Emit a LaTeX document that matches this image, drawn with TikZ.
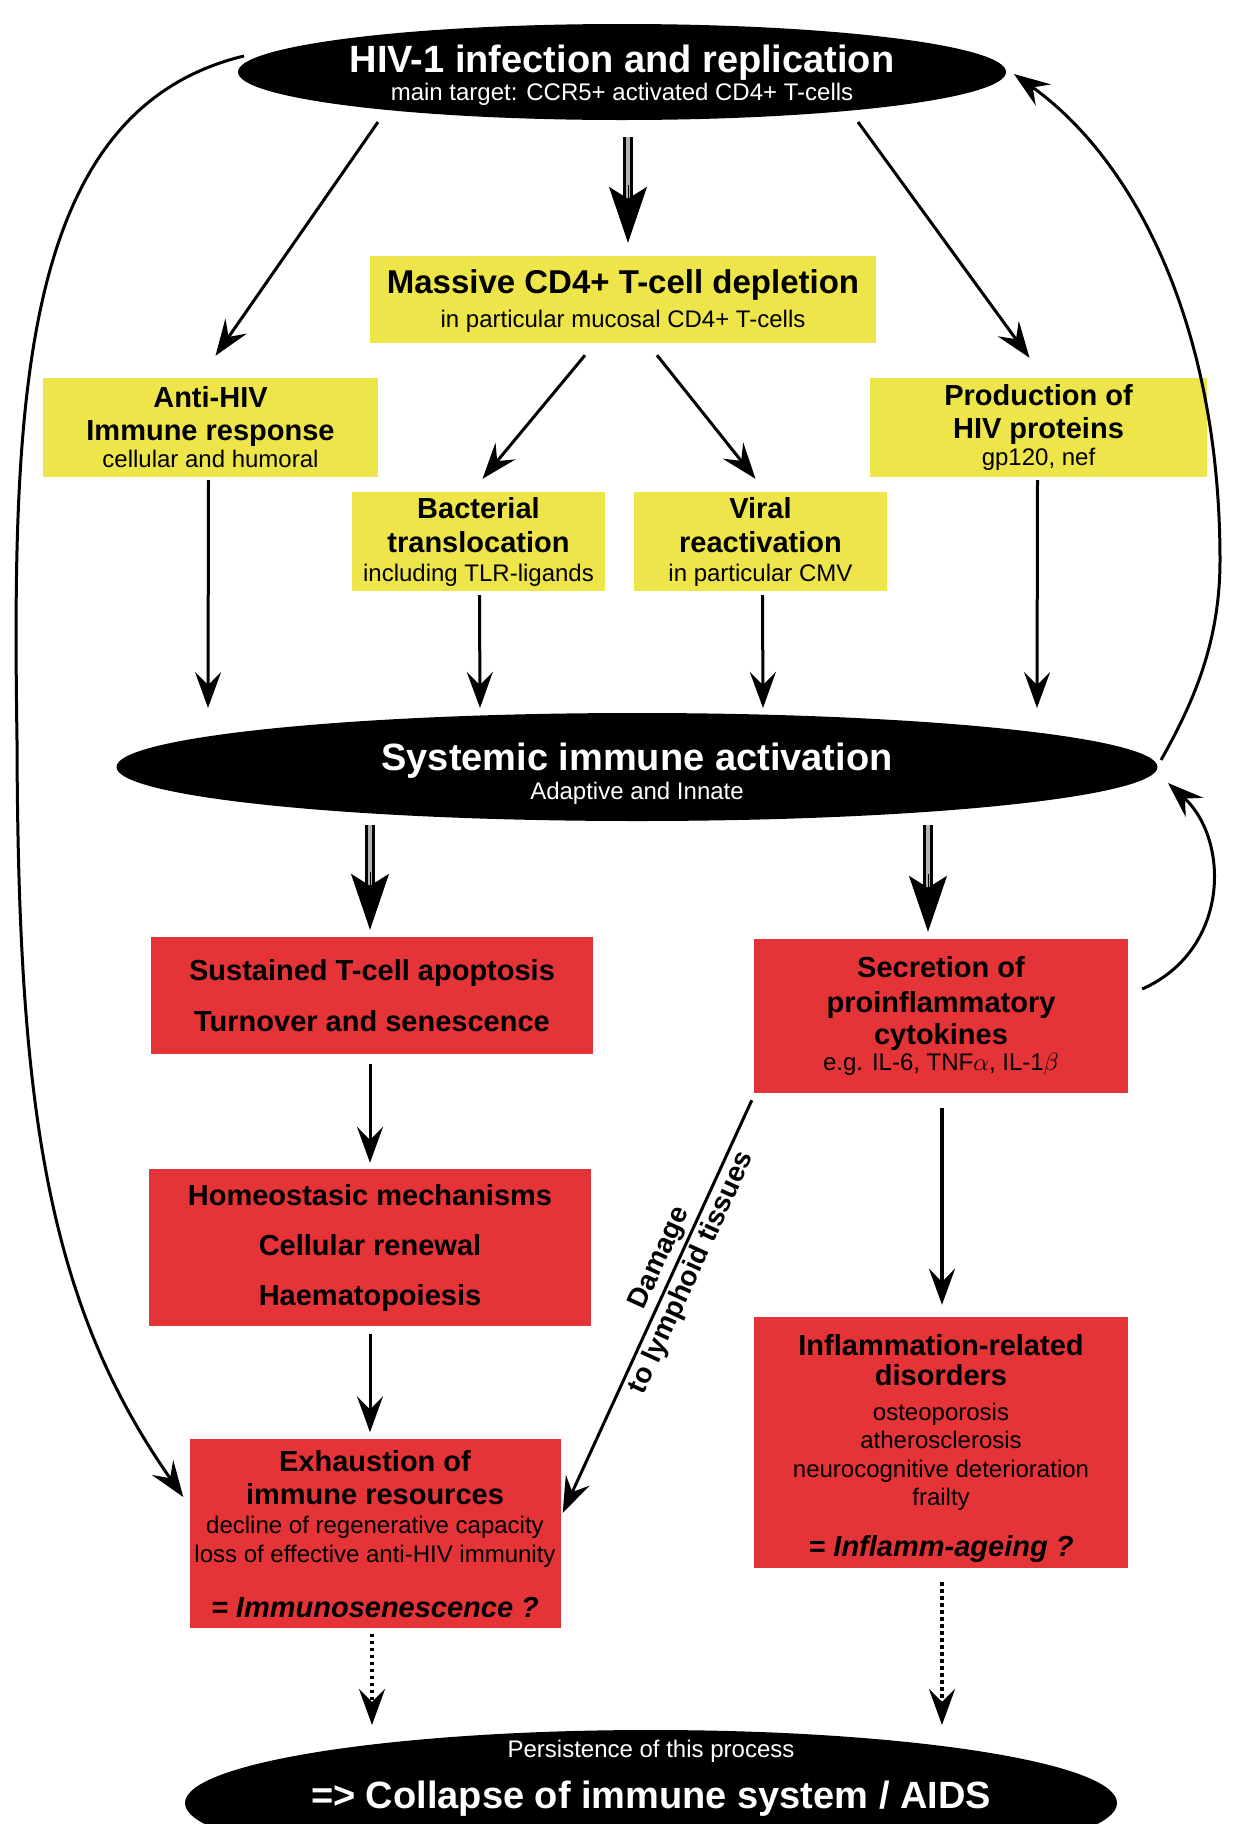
\documentclass[tikz,border=0pt]{standalone}
\usepackage{fontspec}
\setmainfont{Liberation Sans}
\usetikzlibrary{arrows.meta,calc,shapes.geometric}
\definecolor{yel}{RGB}{237,229,74}
\definecolor{rd}{RGB}{229,52,56}
\newcommand{\fT}{\fontsize{29}{33}\selectfont\bfseries}
\newcommand{\fS}{\fontsize{24}{28}\selectfont}
\newcommand{\fBig}{\fontsize{38}{40}\selectfont\bfseries}
\newcommand{\fDmg}{\fontsize{28}{30}\selectfont\bfseries}
\newcommand{\dblarr}[2]{%
  \draw[line width=3pt,double=gray!60,double distance=4pt] (#1) -- ($(#2)!42pt!(#1)$);
  \draw[line width=1pt,-{Stealth[length=56pt,width=38pt,inset=12pt]}] ($(#2)!58pt!(#1)$) -- (#2);}
\begin{document}
\begin{tikzpicture}[x=1pt,y=-1pt,
  arr/.style={line width=3pt,-{Stealth[length=36pt,width=26pt,inset=13pt]}},
  dotarr/.style={line width=4.5pt,dash pattern=on 3.5pt off 3.5pt,-{Stealth[length=36pt,width=26pt,inset=13pt]}},
  ybox/.style={fill=yel,inner sep=0pt,align=center,font=\fS},
  rbox/.style={fill=rd,inner sep=0pt,align=center,font=\fS},
  blob/.style={ellipse,fill=black,inner sep=0pt},
  wtext/.style={text=white,align=center,font=\fS,inner sep=0pt},
  lbl/.style={font=\fDmg,sloped,inner sep=3pt}]
\useasboundingbox (0,0) rectangle (1235,1824);
\fill[white] (0,0) rectangle (1235,1824);

% ellipses
\node[blob,minimum width=768pt,minimum height=96pt] (top) at (622,72) {};
\node[wtext] (topT) at (622,75) {{\fBig HIV-1 infection and replication}\\main target: CCR5+ activated CD4+ T-cells};
\node[blob,minimum width=1041pt,minimum height=108pt] (sys) at (637,767) {};
\node[wtext] (sysT) at (637,774) {{\fBig Systemic immune activation}\\[1pt]Adaptive and Innate};
\node[blob,minimum width=932pt,minimum height=146pt] (bot) at (651,1803) {};
\node[wtext] (botT) at (651,1778) {Persistence of this process\\[18pt]{\fBig => Collapse of immune system / AIDS}};

% yellow boxes
\node[ybox,minimum width=506pt,minimum height=87pt] (mass) at (623,299.5)
  {{\fontsize{33}{36}\selectfont\bfseries Massive CD4+ T-cell depletion\rule{0pt}{27pt}}\\[6pt]in particular mucosal CD4+ T-cells};
\node[ybox,minimum width=335pt,minimum height=99pt] (anti) at (210.5,427.5)
  {{\fT Anti-HIV}\\[5pt]{\fT Immune response}\\[-1pt]cellular and humoral};
\node[ybox,minimum width=337pt,minimum height=99pt] (prod) at (1038.5,427.5)
  {{\fT Production of}\\[5pt]{\fT HIV proteins}\\[-1pt]gp120, nef};
\node[ybox,minimum width=253pt,minimum height=99pt] (bact) at (478.5,541.5)
  {{\fT Bacterial}\\[6pt]{\fT translocation}\\[1pt]including TLR-ligands};
\node[ybox,minimum width=253pt,minimum height=99pt] (viral) at (760.5,541.5)
  {{\fT Viral}\\[6pt]{\fT reactivation}\\[1pt]in particular CMV};

% red boxes
\node[rbox,minimum width=442pt,minimum height=117pt] (sust) at (372,995.5)
  {{\fT Sustained T-cell apoptosis}\\[23pt]{\fT Turnover and senescence}};
\node[rbox,minimum width=374pt,minimum height=154pt] (secr) at (941,1016)
  {{\fT Secretion of}\\[7pt]{\fT proinflammatory}\\[4pt]{\fT cytokines}\\[-2pt]e.g. IL-6, TNF$\alpha$, IL-1$\beta$};
\node[rbox,minimum width=442pt,minimum height=157pt] (homeo) at (370,1247.5)
  {{\fT Homeostasic mechanisms}\\[22pt]{\fT Cellular renewal}\\[22pt]{\fT Haematopoiesis}};
\node[rbox,minimum width=371pt,minimum height=189pt] (exh) at (375,1533)
  {{\fT Exhaustion of\rule{0pt}{24pt}}\\[5pt]{\fT immune resources}\\[1pt]decline of regenerative capacity\\[1pt]loss of effective anti-HIV immunity\\[27pt]{\fT\itshape = Immunosenescence ?}};
\node[rbox,minimum width=374pt,minimum height=251pt] (infl) at (941,1442.5)
  {{\fT Inflammation-related\rule{0pt}{32pt}}\\[2pt]{\fT disorders}\\[7pt]osteoporosis\\[0pt]atherosclerosis\\[1pt]neurocognitive deterioration\\[0pt]frailty\\[23pt]{\fT\itshape = Inflamm-ageing ?}};

% connectors, upper part
\draw[arr] ($(top.center)+(-244,50)$) -- ($(anti.north)+(5,-22)$);
\coordinate (d1s) at ($(top.center)+(6,65)$);
\coordinate (d1e) at ($(mass.north)+(5,-13)$);
\dblarr{d1s}{d1e}
\draw[arr] ($(top.center)+(236,50)$) -- ($(prod.north)+(-9,-20)$);
\draw[arr] ($(mass.south)+(-38,12)$) -- ($(bact.north)+(4,-13)$);
\draw[arr] ($(mass.south)+(34,12)$) -- ($(viral.north)+(-5,-13)$);
\draw[arr] ($(anti.south)+(-2,3)$) -- ($(sys.center)+(-429,-59)$);
\draw[arr] ($(bact.south)+(1,4)$) -- ($(sys.center)+(-157,-59)$);
\draw[arr] ($(viral.south)+(2,4)$) -- ($(sys.center)+(126,-59)$);
\draw[arr] ($(prod.south)+(-1,3)$) -- ($(sys.center)+(400,-59)$);

% connectors, lower part
\coordinate (d2s) at ($(sys.center)+(-267,58)$);
\coordinate (d2e) at ($(sust.north)+(-2,-7)$);
\dblarr{d2s}{d2e}
\coordinate (d3s) at ($(sys.center)+(291,58)$);
\coordinate (d3e) at ($(secr.north)+(-13,-7)$);
\dblarr{d3s}{d3e}
\draw[arr] ($(sust.south)+(-2,10)$) -- ($(homeo.north)+(0,-6)$);
\draw[arr,line width=4pt] ($(secr.south)+(1,15)$) -- ($(infl.north)+(1,-12)$);
\draw[arr] ($(homeo.south)+(0,8)$) -- ($(exh.north)+(-5,-6)$);
\draw[arr] ($(secr.south west)+(-2,7)$) --
  node[lbl,pos=0.4,above] {Damage}
  node[lbl,pos=0.4,below] {to lymphoid tissues}
  ($(exh.east)+(2,-20)$);
\draw[dotarr] ($(exh.south)+(-3,6)$) -- ($(bot.center)+(-279,-78)$);
\draw[dotarr] ($(infl.south)+(1,14)$) -- ($(bot.center)+(291,-78)$);

% feedback curves
\coordinate (lm) at (17,740);
\draw[arr] ($(top.center)+(-378,-16)$) .. controls (20,110) and (12,400) .. (lm)
  .. controls (18,1100) and (45,1300) .. ($(exh.west)+(-6,-36)$);
\coordinate (rm) at (1220,560);
\draw[arr] ($(sys.center)+(524,-7)$) .. controls (1195,700) and (1220,640) .. (rm)
  .. controls (1220,330) and (1137,162) .. ($(top.center)+(392,2)$);
\draw[arr] ($(secr.east)+(14,-27)$) .. controls (1230,950) and (1230,840) .. ($(sys.center)+(531,16)$);
\end{tikzpicture}
\end{document}
